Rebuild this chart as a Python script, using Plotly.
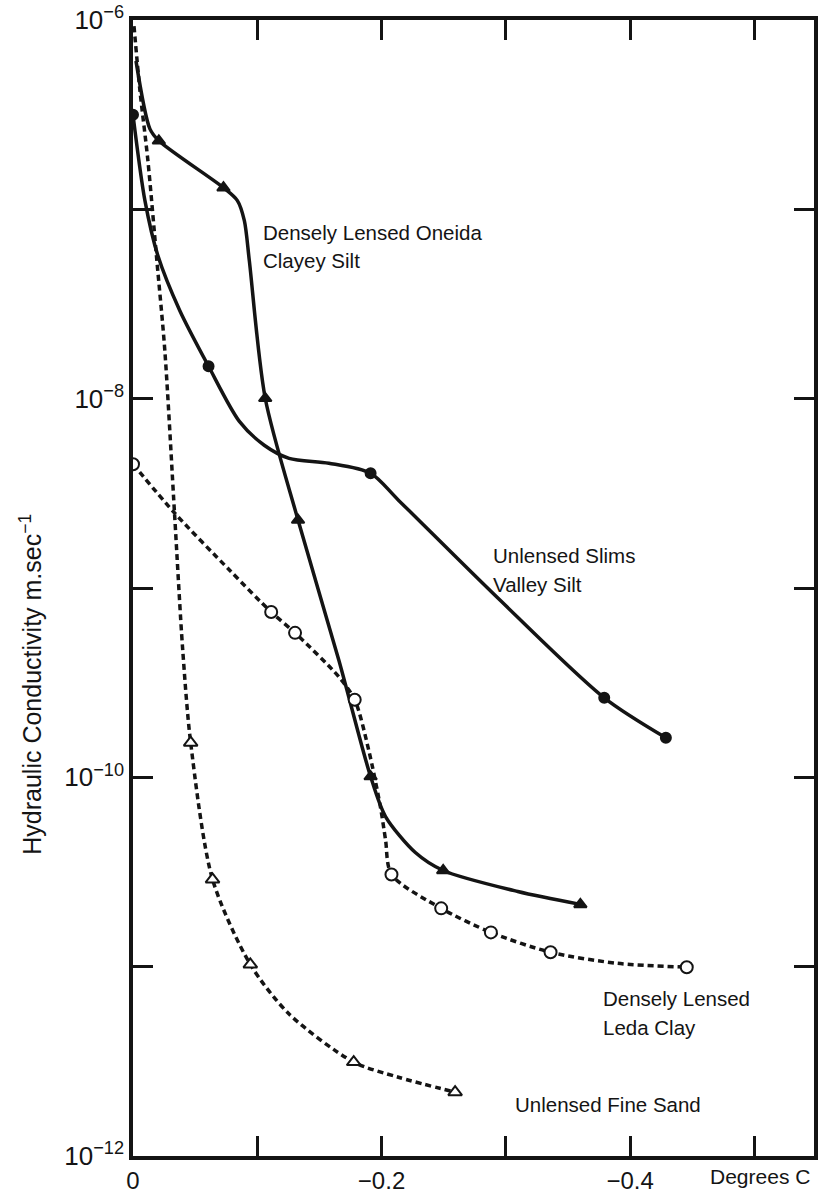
import plotly.graph_objects as go

# Temperature (degrees C, below zero) and log10 hydraulic conductivity (m/s)

# Densely Lensed Oneida Clayey Silt
oneida_curve_x = [-0.0024, -0.0136, -0.0208, -0.0728, -0.084, -0.0896, -0.0936, -0.1064,
                  -0.1328, -0.1656, -0.1912, -0.2032, -0.2272, -0.2496, -0.3096, -0.36]
oneida_curve_logk = [-6.216, -6.575, -6.638, -6.886, -6.954, -7.060, -7.271, -7.998,
                     -8.641, -9.380, -9.996, -10.207, -10.397, -10.492, -10.603, -10.671]
oneida_pts_x = [-0.0208, -0.0728, -0.1064, -0.1328, -0.1912, -0.2496, -0.36]
oneida_pts_logk = [-6.638, -6.886, -7.998, -8.641, -9.996, -10.492, -10.671]

# Unlensed Slims Valley Silt
slims_curve_x = [0.0, -0.0096, -0.02, -0.0376, -0.0608, -0.0856, -0.1056, -0.1256,
                 -0.1576, -0.1912, -0.2136, -0.2936, -0.3792, -0.4288]
slims_curve_logk = [-6.501, -6.954, -7.244, -7.534, -7.829, -8.12, -8.246, -8.315,
                    -8.341, -8.394, -8.536, -9.053, -9.580, -9.791]
slims_pts_x = [0.0, -0.0608, -0.1912, -0.3792, -0.4288]
slims_pts_logk = [-6.501, -7.829, -8.394, -9.580, -9.791]

# Densely Lensed Leda Clay
leda_curve_x = [0.0, -0.0336, -0.0776, -0.1112, -0.1304, -0.1656, -0.1784, -0.1896,
                -0.1992, -0.2032, -0.208, -0.248, -0.288, -0.336, -0.3896, -0.4456]
leda_curve_logk = [-8.346, -8.605, -8.905, -9.127, -9.237, -9.469, -9.590, -9.854,
                   -10.160, -10.329, -10.513, -10.692, -10.819, -10.924, -10.982, -11.003]
leda_pts_x = [0.0, -0.1112, -0.1304, -0.1784, -0.208, -0.248, -0.288, -0.336, -0.4456]
leda_pts_logk = [-8.346, -9.127, -9.237, -9.590, -10.513, -10.692, -10.819, -10.924, -11.003]

# Unlensed Fine Sand
sand_curve_x = [-0.0008, -0.0056, -0.012, -0.0192, -0.0256, -0.0336, -0.04, -0.0464,
                -0.064, -0.0944, -0.1256, -0.1776, -0.2136, -0.2592]
sand_curve_logk = [-6.032, -6.374, -6.743, -7.271, -7.745, -8.626, -9.327, -9.817,
                   -10.539, -10.988, -11.25, -11.504, -11.584, -11.663]
sand_pts_x = [-0.0464, -0.064, -0.0944, -0.1776, -0.2592]
sand_pts_logk = [-9.817, -10.539, -10.988, -11.504, -11.663]

x_tickvals = [0, -0.1, -0.2, -0.3, -0.4, -0.5]
x_ticktext = ["0", "", "\u22120.2", "", "\u22120.4", ""]
y_tickexp = [-6, -7, -8, -9, -10, -11, -12]
y_exp_labels = ["\u22126", "", "\u22128", "", "\u221210", "", "\u221212"]
y_ticktext = [f"10<sup>{e}</sup>" if e else "" for e in y_exp_labels]

INK = "#141414"
FONT = "Liberation Sans"


def tenpow(vals):
    return [10 ** v for v in vals]


fig = go.Figure()


def add_series(cx, cy, px, py, dash, symbol, fill, msize):
    fig.add_trace(go.Scatter(
        x=cx, y=tenpow(cy), mode="lines",
        line=dict(color=INK, width=3.5, dash=dash, shape="spline", smoothing=0.8),
        hoverinfo="skip", showlegend=False))
    fig.add_trace(go.Scatter(
        x=px, y=tenpow(py), mode="markers",
        marker=dict(symbol=symbol, size=msize, color=fill,
                    line=dict(color=INK, width=2)),
        showlegend=False))


add_series(oneida_curve_x, oneida_curve_logk, oneida_pts_x, oneida_pts_logk,
           "solid", "triangle-up", INK, 11)
add_series(slims_curve_x, slims_curve_logk, slims_pts_x, slims_pts_logk,
           "solid", "circle", INK, 10)
add_series(leda_curve_x, leda_curve_logk, leda_pts_x, leda_pts_logk,
           "6px,4px", "circle", "white", 12)
add_series(sand_curve_x, sand_curve_logk, sand_pts_x, sand_pts_logk,
           "6px,4px", "triangle-up", "white", 12)

labels = [
    (-0.1032, -7.12, "Densely Lensed Oneida"),
    (-0.1032, -7.27, "Clayey Silt"),
    (-0.288, -8.83, "Unlensed Slims"),
    (-0.288, -8.98, "Valley Silt"),
    (-0.3768, -11.17, "Densely Lensed"),
    (-0.3768, -11.32, "Leda Clay"),
    (-0.3056, -11.727, "Unlensed Fine Sand"),
]
for lx, ly, txt in labels:
    fig.add_annotation(x=lx, y=ly, xref="x", yref="y", text=txt, showarrow=False,
                       xanchor="left", yanchor="middle",
                       font=dict(family=FONT, size=20.5, color=INK))

fig.add_annotation(x=0.997, y=-0.006, xref="paper", yref="paper", text="Degrees C",
                   showarrow=False, xanchor="right", yanchor="top",
                   font=dict(family=FONT, size=21, color=INK))
fig.add_annotation(x=-0.151, y=0.415, xref="paper", yref="paper",
                   text="Hydraulic Conductivity m.sec<sup>\u22121</sup>",
                   showarrow=False, textangle=-90, xanchor="center", yanchor="middle",
                   font=dict(family=FONT, size=25, color=INK))

fig.update_xaxes(range=[0, -0.548], tickvals=x_tickvals, ticktext=x_ticktext,
                 ticks="inside", ticklen=20, tickwidth=3, tickcolor=INK,
                 showline=True, linewidth=3.5, linecolor=INK, mirror="ticks",
                 showgrid=False, zeroline=False,
                 tickfont=dict(family=FONT, size=24, color=INK))
fig.update_yaxes(type="log", range=[-12, -6], tickvals=tenpow(y_tickexp), ticktext=y_ticktext,
                 ticks="inside", ticklen=20, tickwidth=3, tickcolor=INK,
                 showline=True, linewidth=3.5, linecolor=INK, mirror="ticks",
                 showgrid=False, zeroline=False,
                 tickfont=dict(family=FONT, size=26, color=INK))

fig.update_layout(width=820, height=1196, plot_bgcolor="white", paper_bgcolor="white",
                  margin=dict(l=133, r=2, t=19, b=39))

fig.write_html("out.html")
